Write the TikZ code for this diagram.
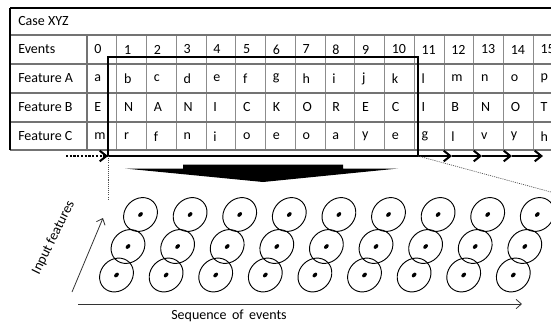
\documentclass[tikz,border=0pt]{standalone}
\usepackage{fontspec}
\setmainfont{Carlito}
\usetikzlibrary{arrows.meta,shapes.geometric}
\begin{document}
\begin{tikzpicture}[x=0.75pt,y=-0.75pt,
  font=\fontsize{10.5}{12}\selectfont,
  cell/.style={anchor=west, inner sep=0pt},
  hline/.style={draw=black!55, line width=1pt},
  vline/.style={draw=black!45, line width=0.7pt},
  border/.style={draw=black, line width=0.9pt},
  winbox/.style={draw=black, line width=1.5pt},
  seqarrow/.style={draw=black, line width=1.5pt, -{Straight Barb[length=5pt,width=8pt,line width=1.5pt]}},
  guide/.style={draw=black!70, line width=0.5pt, dash pattern=on 0.8pt off 0.8pt},
  feat/.style={draw=black, line width=0.7pt, ellipse, inner sep=0pt, minimum width=27pt, minimum height=23.6pt, rotate=45},
  dotn/.style={fill=black, ellipse, inner sep=0pt, minimum width=4.2pt, minimum height=2.8pt, rotate=45},
  axis/.style={draw=black!80, line width=0.6pt, -{Straight Barb[length=4pt,width=7pt]}}]
\useasboundingbox (0,0) rectangle (551,322);
\clip (0,0) rectangle (551,322);
% table grid
\foreach \i in {1,...,16} \draw[vline] (87+29.75*\i,35) -- (87+29.75*\i,150);
\draw[hline] (87,35) -- (87,150);
\foreach \y in {35,64,93,122,150} \draw[hline] (10,\y) -- (600,\y);
\draw[border] (10,8) -- (600,8);
\draw[border] (10,8) -- (10,150);
% labels
\node[cell] (case) at (18,21.5) {Case XYZ};
\node[cell] (ev) at (18,49.5) {Events};
\node[cell] (fa) at (18,78.5) {Feature A};
\node[cell] (fb) at (18,107.5) {Feature B};
\node[cell] (fc) at (18,136.5) {Feature C};
\foreach \i in {0,...,15} \node[cell] (e\i) at (87+29.75*\i+7,49.5) {\i};
\foreach \t [count=\i from 0] in {a,b,c,d,e,f,g,h,i,j,k,l,m,n,o,p}
  \node[cell] (a\i) at (87+29.75*\i+7,78.5) {\t};
\foreach \t [count=\i from 0] in {E,N,A,N,I,C,K,O,R,E,C,I,B,N,O,T}
  \node[cell] (b\i) at (87+29.75*\i+7,107.5) {\t};
\foreach \t [count=\i from 0] in {m,r,f,n,i,o,e,o,a,y,e,g,l,v,y,h}
  \node[cell] (c\i) at (87+29.75*\i+7,136.5) {\t};
% window
\draw[winbox] (108,57) rectangle (418,156);
\coordinate (wl) at (108,156);
\coordinate (wr) at (418,156);
\coordinate (ds) at (66,156);
\draw[seqarrow, dash pattern=on 1.6pt off 1.2pt] (ds) -- (wl);
\coordinate (s1) at (452,156);
\coordinate (s2) at (482,156);
\coordinate (s3) at (512,156);
\coordinate (s4) at (543,156);
\draw[seqarrow] (wr) -- (s1);
\draw[seqarrow] (s1) -- (s2);
\draw[seqarrow] (s2) -- (s3);
\draw[seqarrow] (s3) -- (s4);
% guide lines
\coordinate (gl) at (108,200);
\coordinate (gr) at (562,195);
\draw[guide] (wl) -- (gl);
\draw[guide] (wr) -- (gr);
% wedge
\fill[black] (125,168.5) -- (183,168.5) -- (183,164.5) -- (343,164.5) -- (343,168.5) -- (398,168.5) -- (263,182) -- cycle;
% features
\foreach \k in {0,...,8} {
  \node[feat] (t\k) at (140.5+49.6*\k,214.5) {};
  \node[feat] (m\k) at (128+49.6*\k,246.5) {};
  \node[feat] (u\k) at (116.5+49.6*\k,275) {};
  \node[dotn] at (t\k.center) {};
  \node[dotn] at (m\k.center) {};
  \node[dotn] at (u\k.center) {};
}
% axes
\coordinate (i0) at (72,292);
\coordinate (i1) at (103,218);
\draw[axis] (i0) -- (i1);
\node[rotate=63.7] (il) at (53.5,237.5) {Input features};
\coordinate (x0) at (78,304);
\coordinate (x1) at (522,304);
\draw[axis] (x0) -- (x1);
\node (xl) at (229,316) {Sequence\, of\, events};
\end{tikzpicture}
\end{document}
